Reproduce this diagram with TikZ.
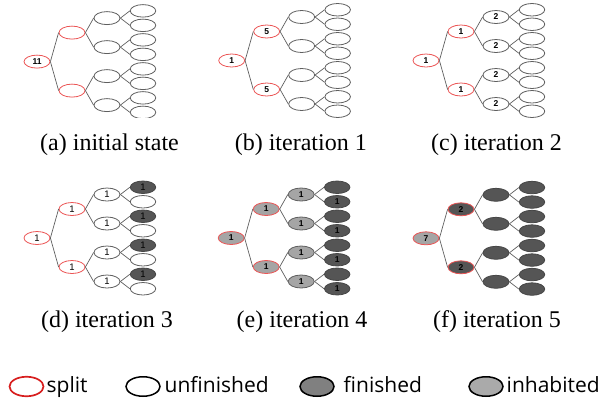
\documentclass[tikz,border=0pt]{standalone}
\usepackage{fontspec}
\setmainfont{Liberation Serif}
\newfontfamily\labfont{Liberation Sans}
\newfontfamily\legfont{Open Sans}
\usetikzlibrary{shapes.geometric}
\definecolor{tred}{RGB}{235,85,85}
\definecolor{tgray}{RGB}{95,95,95}
\definecolor{tdark}{RGB}{70,70,70}
\definecolor{tfill}{RGB}{85,85,85}
\definecolor{tlight}{RGB}{165,165,165}
\definecolor{lred}{RGB}{215,30,30}
\definecolor{lfin}{RGB}{128,128,128}
\definecolor{linh}{RGB}{170,170,170}
\tikzset{
  nd/.style={ellipse, inner sep=0pt, minimum width=26pt, minimum height=13pt, line width=0.8pt,
    font=\labfont\bfseries\fontsize{8.5}{8.5}\selectfont},
  lf/.style={nd, minimum width=25.5pt, minimum height=12.5pt},
  sp/.style={draw=tred},
  un/.style={draw=tgray},
  fi/.style={draw=tdark, fill=tfill},
  ih/.style={draw=tgray, fill=tlight},
  spfi/.style={draw=tred, fill=tfill},
  spih/.style={draw=tred, fill=tlight},
  edge/.style={draw=tgray, line width=0.7pt},
  capt/.style={font=\fontsize{24}{24}\selectfont, inner sep=0pt, anchor=base},
  legt/.style={font=\legfont\fontsize{21}{21}\selectfont, inner sep=0pt, anchor=base west},
  legell/.style={ellipse, inner sep=0pt, minimum width=34pt, minimum height=19.5pt, line width=1.5pt, draw=black},
  t0/.style={sp}, t1/.style={sp}, t2/.style={un}, t3o/.style={un}, t3e/.style={un}
}
\newcommand\mytree[1]{%
  \node[nd,t0] (#1r) at (37,60.8) {\Lz};
  \foreach \i in {1,2}{%
    \node[nd,t1] (#1a\i) at (72,{60.8+(\i-1.5)*58}) {\Lo};
    \draw[edge] (#1r.east) -- (#1a\i.west);}
  \foreach \j in {1,...,4}{%
    \pgfmathtruncatemacro\p{(\j+1)/2}
    \node[nd,t2] (#1b\j) at (107,{60.8+(\j-2.5)*29}) {\Lt};
    \draw[edge] (#1a\p.east) -- (#1b\j.west);}
  \foreach \k in {1,...,8}{%
    \pgfmathtruncatemacro\p{(\k+1)/2}
    \ifodd\k\relax
      \node[lf,t3o] (#1c\k) at (143,{60.8+(\k-4.5)*14.5}) {\Lro};
    \else
      \node[lf,t3e] (#1c\k) at (143,{60.8+(\k-4.5)*14.5}) {\Lre};
    \fi
    \draw[edge] (#1b\p.east) -- (#1c\k.west);}
}
\begin{document}
\begin{tikzpicture}[x=1pt,y=-1pt]
\useasboundingbox (0,0) rectangle (603,405);
% (a)
\begin{scope}[shift={(0,0.8)}]
  \clip (-5,-5) rectangle (190,116.3);
  \def\Lz{11}\def\Lo{}\def\Lt{}\def\Lro{}\def\Lre{}
  \mytree{a}
\end{scope}
% (b)
\begin{scope}[shift={(194.7,-0.3)}]
  \def\Lz{1}\def\Lo{5}\def\Lt{}\def\Lro{}\def\Lre{}
  \mytree{b}
\end{scope}
% (c)
\begin{scope}[shift={(389,-0.3)}]
  \def\Lz{1}\def\Lo{1}\def\Lt{2}\def\Lro{}\def\Lre{}
  \mytree{c}
\end{scope}
% (d)
\begin{scope}[shift={(0,177.2)},
  t0/.style={sp,font=\labfont\fontsize{9.5}{9.5}\selectfont},
  t1/.style={sp,font=\labfont\fontsize{9.5}{9.5}\selectfont},
  t2/.style={un,font=\labfont\fontsize{9.5}{9.5}\selectfont},
  t3o/.style={fi,font=\labfont\fontsize{9.5}{9.5}\selectfont},
  t3e/.style={un}]
  \def\Lz{1}\def\Lo{1}\def\Lt{1}\def\Lro{1}\def\Lre{}
  \mytree{d}
\end{scope}
% (e)
\begin{scope}[shift={(194.2,177.2)},
  t0/.style={spih}, t1/.style={spih}, t2/.style={ih}, t3o/.style={fi}, t3e/.style={fi}]
  \def\Lz{1}\def\Lo{1}\def\Lt{1}\def\Lro{}\def\Lre{1}
  \mytree{e}
\end{scope}
% (f)
\begin{scope}[shift={(389,177.5)},
  t0/.style={spih}, t1/.style={spfi}, t2/.style={fi}, t3o/.style={fi}, t3e/.style={fi}]
  \def\Lz{7}\def\Lo{2}\def\Lt{}\def\Lro{}\def\Lre{}
  \mytree{f}
\end{scope}
% captions
\node[capt] (capa) at (109.5,150) {(a) initial state};
\node[capt] (capb) at (300.8,150) {(b) iteration 1};
\node[capt] (capc) at (496.5,150) {(c) iteration 2};
\node[capt] (capd) at (107,327) {(d) iteration 3};
\node[capt] (cape) at (302,327) {(e) iteration 4};
\node[capt] (capf) at (497,327) {(f) iteration 5};
% legend
\node[legell, draw=lred, line width=1.7pt] (lsp) at (26.5,386.5) {};
\node[legt] (lspt) at (46.5,392.7) {split};
\node[legell] (lun) at (143,386.5) {};
\node[legt] (lunt) at (164.5,392.7) {unfinished};
\node[legell, fill=lfin] (lfi) at (317,386.5) {};
\node[legt] (lfit) at (343.5,392.7) {finished};
\node[legell, fill=linh] (lih) at (486,386.5) {};
\node[legt] (liht) at (506.5,392.7) {inhabited};
\end{tikzpicture}
\end{document}
